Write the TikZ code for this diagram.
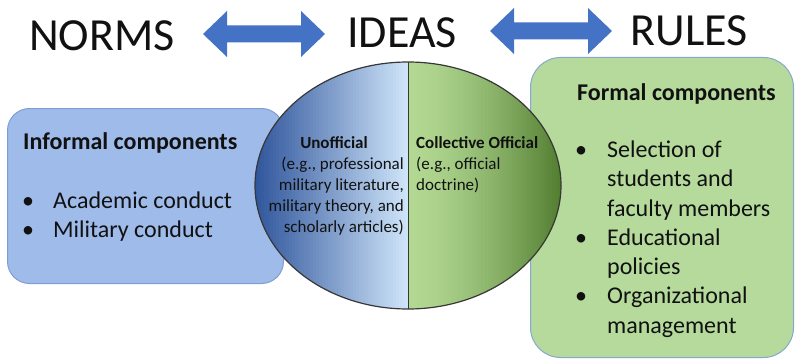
\documentclass[tikz,border=0pt]{standalone}
\usepackage{fontspec}
\setmainfont{Carlito}
\usetikzlibrary{calc,shapes.geometric}
\definecolor{arrowblue}{RGB}{68,114,196}
\definecolor{infofill}{RGB}{158,187,234}
\definecolor{infoline}{RGB}{128,158,214}
\definecolor{formfill}{RGB}{181,218,156}
\definecolor{formline}{RGB}{135,168,205}
\definecolor{blueDark}{RGB}{48,86,156}
\definecolor{blueLight}{RGB}{206,228,249}
\definecolor{greenLight}{RGB}{178,216,146}
\definecolor{greenDark}{RGB}{80,124,46}
\definecolor{rimgray}{RGB}{55,55,55}
\definecolor{txt}{RGB}{17,17,17}
\begin{document}
\begin{tikzpicture}[x=1pt,y=-1pt,
  title/.style={font=\fontsize{46}{55}\selectfont, text=txt, inner sep=0, anchor=base},
  head/.style={font=\bfseries\fontsize{24}{29}\selectfont, text=txt, inner sep=0, anchor=base west},
  body/.style={font=\fontsize{24}{29}\selectfont, text=txt, inner sep=0, anchor=base west},
  dot/.style={font=\fontsize{24}{29}\selectfont, text=txt, inner sep=0, anchor=base},
  small/.style={font=\fontsize{17}{20}\selectfont, text=txt, inner sep=0},
  smallb/.style={font=\bfseries\fontsize{17}{20}\selectfont, text=txt, inner sep=0},
  blockarrow/.style={fill=arrowblue},
  panel/.style={line width=1pt, inner sep=0, anchor=north west}
]
\useasboundingbox (0,0) rectangle (795,361);

% titles
\node[title] (norms) at (102,51) {NORMS};
\node[title] (ideas) at (402,48) {IDEAS};
\node[title] (rules) at (689,46) {RULES};

% block double arrows
\coordinate (la) at (203,34); \coordinate (lb) at (325,34);
\fill[blockarrow] (la) -- ++(24,-23) -- ++(0,14.5) -- ($(lb)+(-24,-8.5)$) -- ++(0,-14.5) -- (lb)
  -- ++(-24,23) -- ++(0,-14.5) -- ($(la)+(24,8.5)$) -- ++(0,14.5) -- cycle;
\coordinate (ra) at (490,31); \coordinate (rb) at (612,31);
\fill[blockarrow] (ra) -- ++(24,-23) -- ++(0,14.5) -- ($(rb)+(-24,-8.5)$) -- ++(0,-14.5) -- (rb)
  -- ++(-24,23) -- ++(0,-14.5) -- ($(ra)+(24,8.5)$) -- ++(0,14.5) -- cycle;

% panels
\node[panel, draw=infoline, fill=infofill, rounded corners=22pt,
      minimum width=276pt, minimum height=175pt] (informal) at (7,108) {};
\node[panel, draw=formline, fill=formfill, rounded corners=30pt,
      minimum width=263pt, minimum height=300pt] (formal) at (530,57) {};

% ideas oval (left half blue ramp, right half green ramp); coordinates relative to its centre
\node[ellipse, draw=rimgray, line width=1.2pt, minimum width=306pt, minimum height=247pt, inner sep=0,
  path picture={
    \foreach \i in {0,...,49}{
      \pgfmathsetmacro\p{100*(\i/49)}
      \fill[blueLight!\p!blueDark] ({-153+\i*3.06},-130) rectangle ({-153+(\i+1)*3.06+0.6},130);
    }
    \foreach \i in {0,...,50}{
      \pgfmathsetmacro\p{100*(\i/50)^1.5}
      \fill[greenDark!\p!greenLight] ({\i*3.06},-130) rectangle ({(\i+1)*3.06+0.6},130);
    }
    \draw[rimgray, line width=1pt] (0,-130) -- (0,130);
  }] (oval) at (408,185.5) {};

% informal text
\node[head] (infhead) at (23,149) {Informal components};
\node[dot] (ib1) at (28,208) {•};
\node[body] (i1) at (53,208) {Academic conduct};
\node[dot] (ib2) at (28,237) {•};
\node[body] (i2) at (53,237) {Military conduct};

% oval text
\node[smallb, anchor=base] (unoff) at (334,148) {Unofficial};
\node[small, anchor=base east] (u1) at (404,169) {(e.g., professional};
\node[small, anchor=base east] (u2) at (404,190) {military literature,};
\node[small, anchor=base east] (u3) at (404,211) {military theory, and};
\node[small, anchor=base east] (u4) at (404,232) {scholarly articles)};
\node[smallb, anchor=base west] (coll) at (416,148) {Collective Official};
\node[small, anchor=base west] (c1) at (416,169) {(e.g., official};
\node[small, anchor=base west] (c2) at (416,190) {doctrine)};

% formal text
\node[head] (formhead) at (577,100) {Formal components};
\node[dot] (fb1) at (581,157) {•};
\node[body] (f1) at (607,157) {Selection of};
\node[body] (f2) at (607,186.5) {students and};
\node[body] (f3) at (607,216) {faculty members};
\node[dot] (fb2) at (581,245) {•};
\node[body] (f4) at (607,245) {Educational};
\node[body] (f5) at (607,274) {policies};
\node[dot] (fb3) at (581,303.5) {•};
\node[body] (f6) at (607,303.5) {Organizational};
\node[body] (f7) at (607,333) {management};
\end{tikzpicture}
\end{document}
